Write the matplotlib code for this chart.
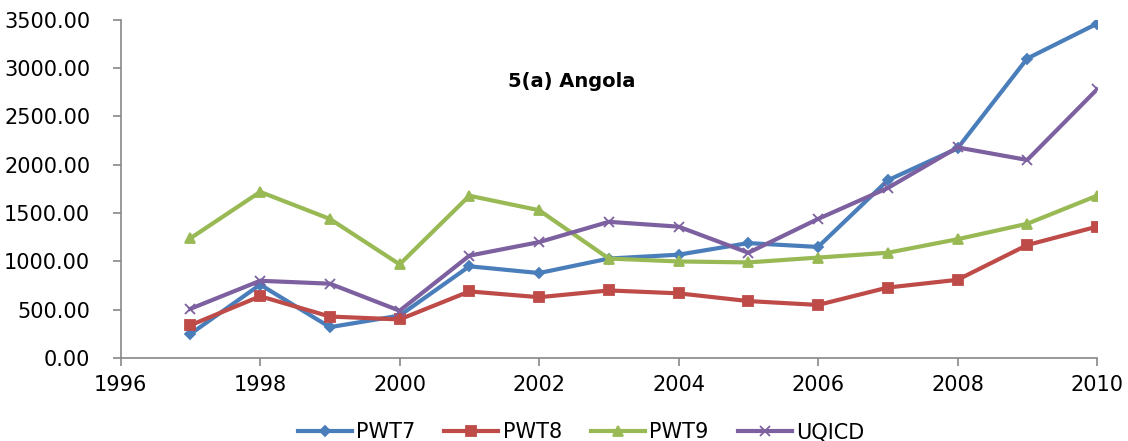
import matplotlib
matplotlib.use("Agg")
import matplotlib.pyplot as plt
from matplotlib.ticker import FormatStrFormatter

years = list(range(1997, 2011))
pwt7 = [250, 760, 320, 440, 950, 880, 1030, 1070, 1190, 1150, 1840, 2170, 3100, 3460]
pwt8 = [340, 640, 430, 400, 690, 630, 700, 670, 590, 550, 730, 810, 1170, 1360]
pwt9 = [1240, 1720, 1440, 970, 1680, 1530, 1030, 1000, 990, 1040, 1090, 1230, 1390, 1680]
uqicd = [510, 800, 770, 490, 1060, 1200, 1410, 1360, 1090, 1440, 1760, 2180, 2050, 2780]

series = [
    ("PWT7", pwt7, "#4a7ebb", "D", 5),
    ("PWT8", pwt8, "#be4b48", "s", 7),
    ("PWT9", pwt9, "#98b954", "^", 7),
    ("UQICD", uqicd, "#7d60a0", "x", 7),
]

fig = plt.figure(figsize=(11.28, 4.41), dpi=100)
ax = fig.add_axes([0.107, 0.188, 0.8655, 0.767])

for name, vals, col, mk, ms in series:
    ax.plot(years, vals, color=col, lw=3, marker=mk, markersize=ms,
            markeredgewidth=1.3, label=name)

ax.set_xlim(1996, 2010)
ax.set_ylim(0, 3500)
ax.set_xticks(range(1996, 2011, 2))
ax.set_yticks(range(0, 3501, 500))
ax.yaxis.set_major_formatter(FormatStrFormatter("%.2f"))

for s in ["top", "right"]:
    ax.spines[s].set_visible(False)
for s in ["left", "bottom"]:
    ax.spines[s].set_color("#888888")
    ax.spines[s].set_linewidth(1.2)
ax.tick_params(axis="both", direction="out", length=6, color="#888888",
               labelsize=15, width=1.2)
ax.tick_params(axis="x", pad=6)
ax.tick_params(axis="y", pad=16)

ax.text(0.462, 0.817, "5(a) Angola", transform=ax.transAxes,
        ha="center", va="center", fontsize=14, fontweight="bold")

fig.legend(loc="lower center", ncol=4, frameon=False, fontsize=15,
           bbox_to_anchor=(0.515, -0.045), handlelength=2.6, columnspacing=1.4,
           handletextpad=0.2)

fig.savefig("out.png", dpi=100)
